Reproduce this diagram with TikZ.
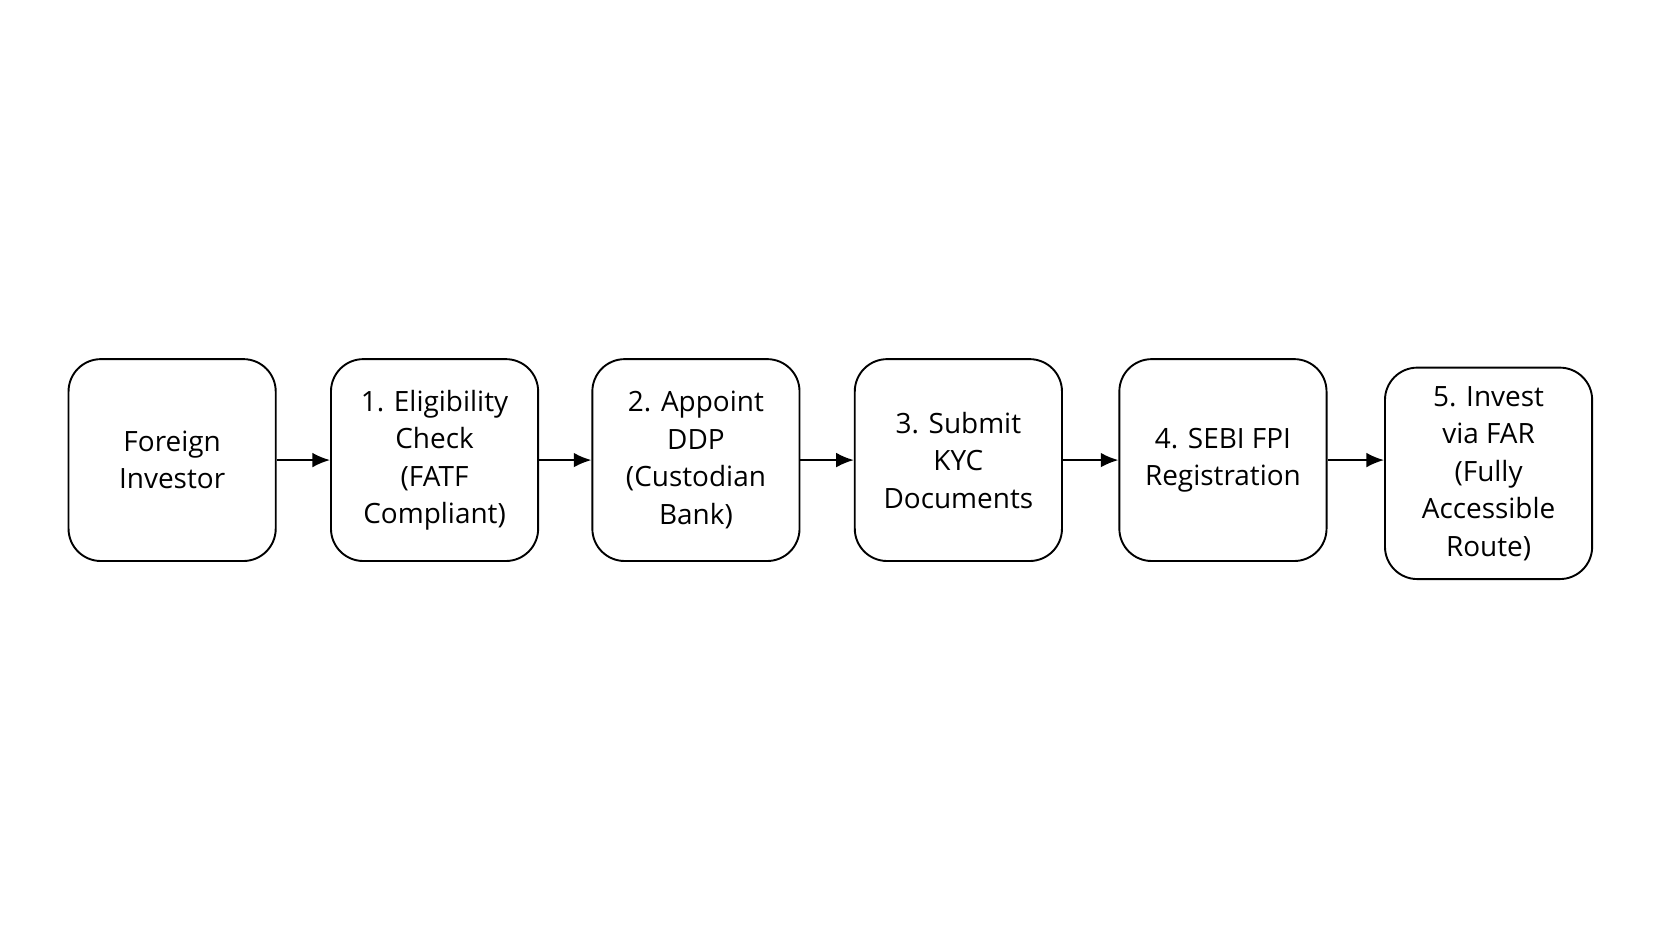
\documentclass[tikz,border=0pt]{standalone}
\usepackage{fontspec}
\setmainfont{Open Sans}
\usetikzlibrary{arrows.meta}
\begin{document}
\begin{tikzpicture}[x=0.0254cm,y=-0.0254cm,
  box/.style={draw=black,line width=1.3pt,rounded corners=22pt,minimum width=195*0.0254cm,minimum height=190*0.0254cm,align=center,font=\fontsize{19pt}{25.5pt}\selectfont,inner sep=0pt},
  arr/.style={-{Latex[length=12pt,width=10pt]},line width=1.3pt}]
\useasboundingbox (0,0) rectangle (1568,882);
\node[box] (a) at (162,433) {Foreign\\Investor};
\node[box] (b) at (409,433) {1. Eligibility\\Check\\(FATF\\Compliant)};
\node[box] (c) at (655,433) {2. Appoint\\DDP\\(Custodian\\Bank)};
\node[box] (d) at (902,433) {3. Submit\\KYC\\Documents};
\node[box] (e) at (1151,433) {4. SEBI FPI\\Registration};
\node[box,minimum height=199*0.0254cm] (f) at (1401,445.5) {5. Invest\\via FAR\\(Fully\\Accessible\\Route)};
\draw[arr] (a.east) -- (b.west);
\draw[arr] (b.east) -- (c.west);
\draw[arr] (c.east) -- (d.west);
\draw[arr] (d.east) -- (e.west);
\draw[arr] (e.east) -- (f.west |- e.east);
\end{tikzpicture}
\end{document}
